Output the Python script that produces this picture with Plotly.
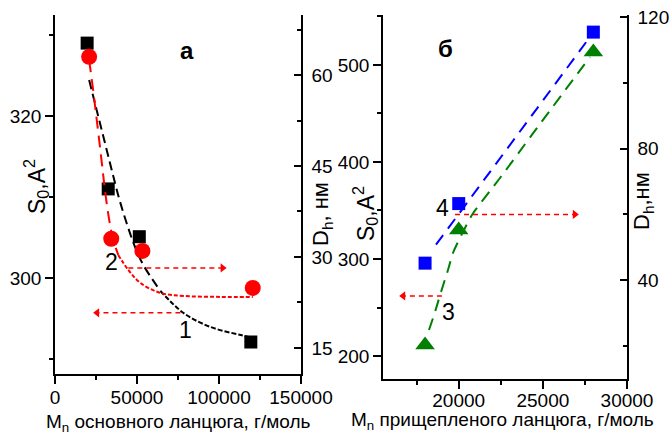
import plotly.graph_objects as go

W, H = 669, 439

# ---------------- data: panel "а" ----------------
mn_main_sq = [19600, 32450, 51400, 119400]          # series 1 (S0, left axis)
s0_main = [329.0, 311.0, 305.1, 292.1]
mn_main_circ = [20800, 34300, 53300, 120600]        # series 2 (Dh, right axis)
dh_main = [63.0, 33.0, 31.0, 24.9]

fit1_x = [20816, 24490, 28163, 31837, 35510, 39184, 43469, 48367, 53878, 64286]
fit1_y = [324.44, 321.48, 318.52, 315.56, 312.59, 309.75, 306.91, 304.07, 301.60, 298.40]
fit1b_x = [64286, 78367, 94898, 113265, 118163]
fit1b_y = [298.40, 295.68, 293.95, 292.96, 292.72]

fit2_x = [20816, 23265, 25102, 26939, 28776, 30612, 33061, 35510, 38571]
fit2_y = [62.45, 57.50, 53.39, 49.27, 44.98, 40.70, 36.10, 32.80, 30.33]
fit2b_x = [38571, 44694, 52041, 64286, 78367, 101020, 120612]
fit2b_y = [30.33, 27.86, 25.72, 24.07, 23.57, 23.41, 23.41]

# ---------------- data: panel "б" ----------------
mn_graft = [18000, 20000, 28000]
dh_graft = [45.2, 63.3, 115.4]     # series 4 (Dh, right axis)
s0_graft = [211.3, 329.9, 513.4]   # series 3 (S0, left axis)

fit4_x = [18649, 27681]
fit4_y = [50.8, 113.1]
fit3_x = [18233, 18590, 18946, 19362, 19659, 19956, 20372, 20788, 21263, 22452, 24829, 27799]
fit3_y = [226.8, 245.4, 266.0, 288.7, 306.2, 317.5, 332.0, 345.4, 356.7, 383.5, 439.2, 508.2]

# arrows (start -> head), in data units of the axis they point to
arrow_a_right = ([44700, 102200], [28.2, 28.2])
arrow_a_left = ([76500, 25700], [295.7, 295.7])
arrow_b_right = ([19780, 26900], [60.0, 60.0])
arrow_b_left = ([19000, 16700], [261.9, 261.9])

FONT = "Liberation Sans, Arial, sans-serif"
RED, BLUE, GREEN = "#ff0000", "#0000ff", "#008000"

fig = go.Figure()

def line(x, y, color, dash, xa, ya, width=2):
    fig.add_trace(go.Scatter(x=x, y=y, mode="lines", xaxis=xa, yaxis=ya,
                             line=dict(color=color, width=width, dash=dash, shape="spline"),
                             showlegend=False, hoverinfo="skip"))

def arrow(pts, xa, ya, symbol):
    xs, ys = pts
    fig.add_trace(go.Scatter(x=xs, y=ys, mode="lines", xaxis=xa, yaxis=ya,
                             line=dict(color=RED, width=1.5, dash="5px,4px"),
                             showlegend=False, hoverinfo="skip"))
    fig.add_trace(go.Scatter(x=[xs[1]], y=[ys[1]], mode="markers", xaxis=xa, yaxis=ya,
                             marker=dict(symbol=symbol, size=8, color=RED),
                             showlegend=False, hoverinfo="skip"))

# panel a fits
line(fit1_x, fit1_y, "black", "9px,5px", "x", "y")
line(fit1b_x, fit1b_y, "black", "5px,2px", "x", "y")
line(fit2_x, fit2_y, RED, "12px,7px", "x", "y2")
line(fit2b_x, fit2b_y, RED, "4px,2px", "x", "y2")
# panel a markers
fig.add_trace(go.Scatter(x=mn_main_sq, y=s0_main, mode="markers", xaxis="x", yaxis="y",
                         marker=dict(symbol="square", size=13, color="black"), showlegend=False))
fig.add_trace(go.Scatter(x=mn_main_circ, y=dh_main, mode="markers", xaxis="x", yaxis="y2",
                         marker=dict(symbol="circle", size=16, color=RED), showlegend=False))
arrow(arrow_a_right, "x", "y2", "triangle-right")
arrow(arrow_a_left, "x", "y", "triangle-left")

# panel b fits
line(fit4_x, fit4_y, BLUE, "12px,8px", "x2", "y4")
line(fit3_x, fit3_y, GREEN, "12px,8px", "x2", "y3")
fig.add_trace(go.Scatter(x=mn_graft, y=dh_graft, mode="markers", xaxis="x2", yaxis="y4",
                         marker=dict(symbol="square", size=13, color=BLUE), showlegend=False))
fig.add_trace(go.Scatter(x=mn_graft, y=s0_graft, mode="markers", xaxis="x2", yaxis="y3",
                         marker=dict(symbol="triangle-up", size=17, color=GREEN), showlegend=False))
arrow(arrow_b_right, "x2", "y4", "triangle-right")
arrow(arrow_b_left, "x2", "y3", "triangle-left")

def ax(**kw):
    d = dict(showline=True, linecolor="black", linewidth=1.5, showgrid=False, zeroline=False,
             ticks="outside", ticklen=8, tickwidth=1.5, tickcolor="black",
             tickfont=dict(family=FONT, size=19, color="black"),
             tickformat="d", automargin=False)
    d.update(kw)
    return d

def minor(dt, inside=False):
    return dict(dtick=dt, ticklen=4, tickwidth=1.5, tickcolor="black",
                ticks="inside" if inside else "outside")

fig.update_layout(
    width=W, height=H, autosize=False, margin=dict(l=0, r=0, t=0, b=0, pad=0),
    paper_bgcolor="white", plot_bgcolor="white",
    font=dict(family=FONT, color="black"),
    xaxis=ax(domain=[55 / W, 301 / W], range=[0, 150000], anchor="y",
             tick0=0, dtick=50000, minor=minor(25000), ticklabelstandoff=-3),
    yaxis=ax(domain=[1 - 374 / H, 1 - 15 / H], range=[288.15, 332.47], anchor="x",
             tick0=300, dtick=20, minor=minor(10)),
    yaxis2=ax(overlaying="y", side="right", anchor="x", range=[10.7, 69.9],
              tick0=15, dtick=15, minor=minor(7.5, True), ticks="inside", ticklen=7,
              ticklabelstandoff=5),
    xaxis2=ax(domain=[383 / W, 627 / W], range=[15500, 30000], anchor="y3",
              tick0=0, dtick=5000, minor=minor(2500), ticklabelstandoff=-5),
    yaxis3=ax(domain=[1 - 379 / H, 1 - 15 / H], range=[176.3, 551.5], anchor="x2",
              tick0=0, dtick=100, minor=minor(50)),
    yaxis4=ax(overlaying="y3", side="right", anchor="x2", range=[10, 120.6],
              tick0=0, dtick=40, minor=minor(20, True), ticks="inside", ticklen=7,
              ticklabelstandoff=5),
)

def ann(text, px, py, size, angle=0, bold=False):
    fig.add_annotation(text=("<b>%s</b>" % text) if bold else text,
                       x=px / W, y=1 - py / H, xref="paper", yref="paper",
                       xanchor="center", yanchor="middle", showarrow=False,
                       textangle=angle, font=dict(family=FONT, size=size, color="black"))

ann("M<sub>n</sub> основного ланцюга, г/моль", 178, 423, 19)
ann("M<sub>n</sub> прищепленого ланцюга, г/моль", 502, 421, 19)
ann("S<sub>0</sub>,A<sup>2</sup>", 36, 187, 23, -90)
ann("D<sub>h</sub>, нм", 322, 214, 22, -90)
ann("S<sub>0</sub>,A<sup>2</sup>", 365, 213, 23, -90)
ann("D<sub>h</sub>,нм", 643, 201, 22, -90)
ann("а", 187, 50, 24, bold=True)
ann("б", 445, 48, 24, bold=True)
ann("1", 185, 330, 23)
ann("2", 111, 262, 23)
ann("3", 448, 312, 23)
ann("4", 443, 208, 23)

fig.write_html("out.html", config={"responsive": False})
